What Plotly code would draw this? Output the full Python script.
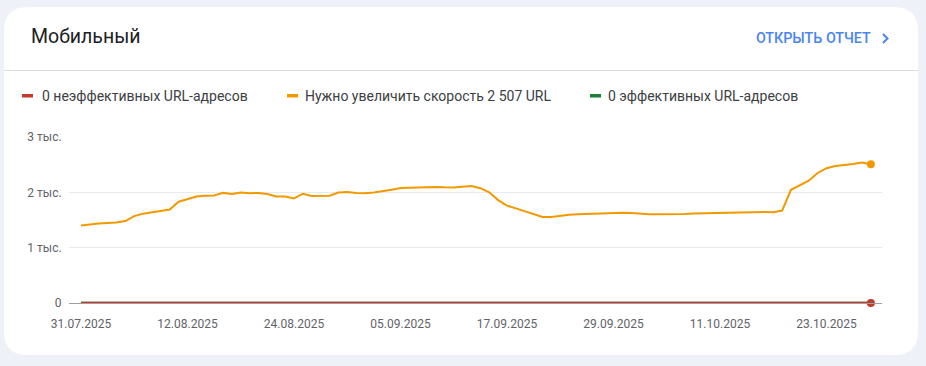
import pandas as pd
import plotly.graph_objects as go

# ---------------- data ----------------
start_date = "2025-07-31"
end_date = "2025-10-28"
dates = pd.date_range(start_date, end_date, freq="D")

needs_improvement = [
    1400, 1420, 1435, 1445, 1455, 1480, 1570, 1615, 1640, 1660,
    1690, 1830, 1880, 1925, 1940, 1945, 1990, 1970, 1995, 1985,
    1990, 1970, 1925, 1925, 1890, 1975, 1935, 1935, 1940, 1995,
    2005, 1990, 1985, 1995, 2015, 2045, 2080, 2086, 2095, 2100,
    2098, 2090, 2086, 2100, 2115, 2075, 2000, 1860, 1760, 1710,
    1660, 1600, 1555, 1555, 1580, 1595, 1605, 1612, 1615, 1620,
    1630, 1633, 1625, 1610, 1604, 1604, 1604, 1604, 1610, 1618,
    1622, 1628, 1635, 1640, 1641, 1642, 1644, 1645, 1640, 1670,
    2045, 2125, 2210, 2350, 2436, 2475, 2490, 2510, 2537, 2507,
]
poor = [0] * len(dates)
good = [0] * len(dates)

series_names = ["0 неэффективных URL-адресов",
                "Нужно увеличить скорость 2 507 URL",
                "0 эффективных URL-адресов"]
y_tick_vals = [0, 1000, 2000, 3000]
y_tick_text = ["0", "1 тыс.", "2 тыс.", "3 тыс."]
title_text = "Мобильный"
link_text = "ОТКРЫТЬ ОТЧЕТ"

# ---------------- styles ----------------
W, H = 926, 366
PX0, PX1 = 69, 882      # plot area in pixels
PY0, PY1 = 137, 303     # top, bottom
RED, ORANGE, GREEN = "#c5392b", "#f29900", "#188038"
BG = "#eef2f8"
FONT = "Roboto"


def xp(px):
    return (px - PX0) / (PX1 - PX0)


def yp(py):
    return (PY1 - py) / (PY1 - PY0)


fig = go.Figure()
fig.add_trace(go.Scatter(x=dates, y=good, mode="lines", name=series_names[2],
                         line=dict(color=GREEN, width=2.5), cliponaxis=False))
fig.add_trace(go.Scatter(x=dates, y=needs_improvement, mode="lines", name=series_names[1],
                         line=dict(color=ORANGE, width=2), cliponaxis=False))
fig.add_trace(go.Scatter(x=dates, y=poor, mode="lines", name=series_names[0],
                         line=dict(color=RED, width=2.5), cliponaxis=False))
fig.add_trace(go.Scatter(x=[dates[-1]], y=[needs_improvement[-1]], mode="markers",
                         marker=dict(color=ORANGE, size=8), cliponaxis=False))
fig.add_trace(go.Scatter(x=[dates[-1]], y=[poor[-1]], mode="markers",
                         marker=dict(color=RED, size=8), cliponaxis=False))

day_ms = 86400000
d0 = pd.Timestamp(start_date)
px_per_day = 8.875
x_lo = d0 + pd.Timedelta(days=(PX0 - 81) / px_per_day)
x_hi = d0 + pd.Timedelta(days=(PX1 - 81) / px_per_day)

shapes = []
# card
cx0, cx1, cy0, cy1, r = 4, 918, 7, 355, 24
def P(px, py):
    return f"{xp(px):.5f},{yp(py):.5f}"
card_path = (f"M {P(cx0 + r, cy0)} L {P(cx1 - r, cy0)} Q {P(cx1, cy0)} {P(cx1, cy0 + r)} "
             f"L {P(cx1, cy1 - r)} Q {P(cx1, cy1)} {P(cx1 - r, cy1)} "
             f"L {P(cx0 + r, cy1)} Q {P(cx0, cy1)} {P(cx0, cy1 - r)} "
             f"L {P(cx0, cy0 + r)} Q {P(cx0, cy0)} {P(cx0 + r, cy0)} Z")
shapes.append(dict(type="path", xref="paper", yref="paper", path=card_path,
                   fillcolor="white", line=dict(width=0), layer="below"))
# divider
shapes.append(dict(type="line", xref="paper", yref="paper", x0=xp(cx0), x1=xp(cx1),
                   y0=yp(70.5), y1=yp(70.5), line=dict(color="#dadce0", width=1), layer="below"))
# chevron
shapes.append(dict(type="path", xref="paper", yref="paper",
                   path=f"M {P(883, 34)} L {P(887.5, 38.5)} L {P(883, 43)}",
                   line=dict(color="#4a86f0", width=2), layer="above"))

annotations = [
    dict(text=title_text, x=xp(29), y=yp(36.5), xref="paper", yref="paper",
         xanchor="left", yanchor="middle", showarrow=False,
         font=dict(family=FONT, size=19.5, color="#202124")),
    dict(text=link_text, x=xp(753.5), y=yp(38), xref="paper", yref="paper",
         xanchor="left", yanchor="middle", showarrow=False,
         font=dict(family="Roboto Medium, Roboto", size=14.3, color="#4a86f0", weight=500)),
]

legend_items = [(series_names[0], RED, 22, 39.5),
                (series_names[1], ORANGE, 287, 303),
                (series_names[2], GREEN, 590, 606)]
for name, col, dx, tx in legend_items:
    shapes.append(dict(type="rect", xref="paper", yref="paper",
                       x0=xp(dx), x1=xp(dx + 11), y0=yp(94), y1=yp(97.5),
                       fillcolor=col, line=dict(width=0), layer="above"))
    annotations.append(dict(text=name, x=xp(tx), y=yp(96), xref="paper", yref="paper",
                            xanchor="left", yanchor="middle", showarrow=False,
                            font=dict(family=FONT, size=14, color="#3c4043")))

fig.update_layout(
    width=W, height=H,
    margin=dict(l=PX0, r=W - PX1, t=PY0, b=H - PY1),
    paper_bgcolor=BG, plot_bgcolor="rgba(0,0,0,0)",
    showlegend=False,
    shapes=shapes, annotations=annotations,
    font=dict(family=FONT),
    xaxis=dict(range=[x_lo, x_hi], tick0=start_date, dtick=12 * day_ms,
               tickformat="%d.%m.%Y", showgrid=False, zeroline=False,
               showline=True, linecolor="#9aa0a6", linewidth=1,
               ticks="outside", ticklen=10, tickcolor="rgba(0,0,0,0)",
               tickfont=dict(family=FONT, size=12, color="#5f6368")),
    yaxis=dict(range=[0, 3000], tickvals=y_tick_vals, ticktext=y_tick_text,
               showgrid=True, gridcolor="#e8eaed", gridwidth=1, zeroline=False,
               showline=False, ticks="outside", ticklen=4, tickcolor="rgba(0,0,0,0)",
               tickfont=dict(family=FONT, size=12, color="#5f6368")),
)

fig.write_html("out.html")
